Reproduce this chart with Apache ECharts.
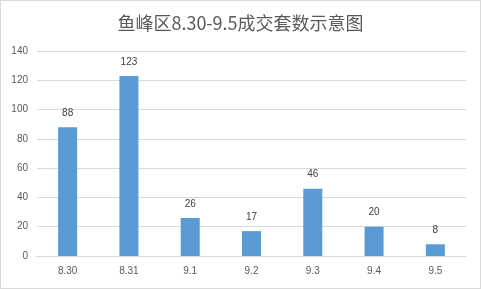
<!DOCTYPE html>
<html><head><meta charset="utf-8">
<script src="https://cdn.jsdelivr.net/npm/echarts@6/dist/echarts.min.js"></script>
<style>html,body{margin:0;padding:0;background:#fff}#c{width:481px;height:289px;box-sizing:border-box;border:1px solid #d9d9d9}</style>
</head><body><div id="c"></div>
<script>
var categories = ['8.30','8.31','9.1','9.2','9.3','9.4','9.5'];
var values = [88,123,26,17,46,20,8];
var titleText = '鱼峰区8.30-9.5成交套数示意图';
var chart = echarts.init(document.getElementById('c'));
chart.setOption({
  animation:false,
  title:{text:titleText,left:'center',top:8,textStyle:{fontFamily:'Noto Sans CJK SC',fontSize:18,fontWeight:'normal',color:'#595959'}},
  grid:{left:36,right:14,top:50,bottom:32},
  xAxis:{type:'category',data:categories,axisLine:{lineStyle:{color:'#d9d9d9'}},axisTick:{show:false},
    axisLabel:{color:'#595959',fontSize:10,fontFamily:'Liberation Sans',margin:10}},
  yAxis:{type:'value',min:0,max:140,interval:20,axisLine:{show:false},axisTick:{show:false},
    splitLine:{lineStyle:{color:'#d9d9d9'}},axisLabel:{color:'#595959',fontSize:10,fontFamily:'Liberation Sans',margin:9}},
  series:[{type:'bar',data:values,barWidth:19,itemStyle:{color:'#5b9bd5'},
    label:{show:true,position:'top',distance:9,color:'#404040',fontSize:10,fontFamily:'Liberation Sans'}}]
});
</script></body></html>
